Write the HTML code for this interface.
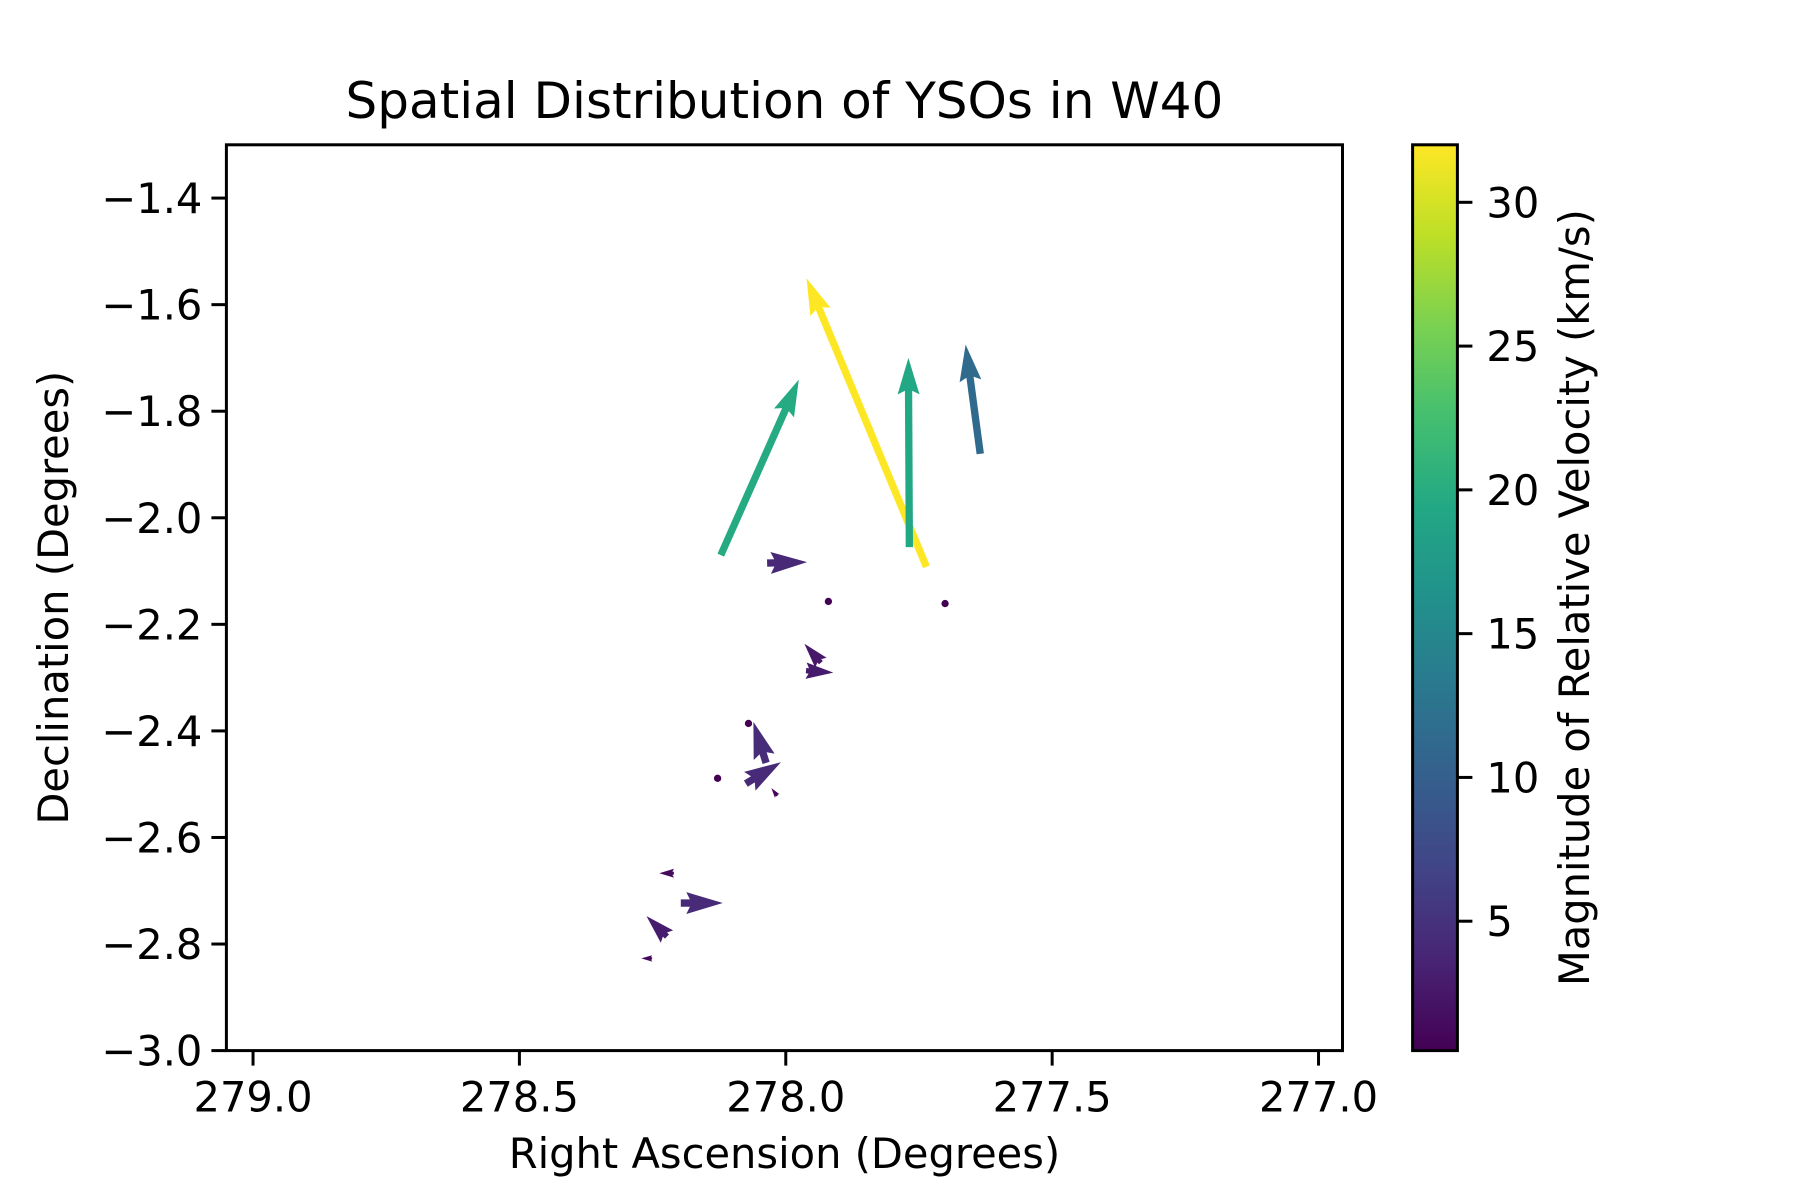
<!DOCTYPE html>
<html><head><meta charset="utf-8"><style>
html,body{margin:0;padding:0;background:#fff;}
svg{display:block;font-family:"DejaVu Sans","Liberation Sans",sans-serif;}
</style></head><body>
<svg id="chart" width="1800" height="1200" viewBox="0 0 1800 1200" xmlns="http://www.w3.org/2000/svg">
<defs>
<linearGradient id="vir" x1="0" y1="1" x2="0" y2="0">
<stop offset="0" stop-color="#440154"/><stop offset="0.1" stop-color="#482475"/><stop offset="0.2" stop-color="#414487"/><stop offset="0.3" stop-color="#355f8d"/><stop offset="0.4" stop-color="#2a788e"/><stop offset="0.5" stop-color="#21918c"/><stop offset="0.6" stop-color="#22a884"/><stop offset="0.7" stop-color="#44bf70"/><stop offset="0.8" stop-color="#7ad151"/><stop offset="0.9" stop-color="#bddf26"/><stop offset="1" stop-color="#fde725"/>
</linearGradient>
</defs>
<g id="plot"></g>
<g id="axes"></g>
</svg>
<script>
// Data (tail positions in degrees, velocity components in km/s)
const ra  = [278.122, 277.736, 277.768, 277.635, 278.035, 277.934, 277.962, 278.037, 278.075, 278.016, 278.070, 278.128, 277.920, 277.701, 278.210, 278.197, 278.223, 278.251];
const dec = [-2.070, -2.092, -2.055, -1.880, -2.085, -2.272, -2.287, -2.460, -2.499, -2.522, -2.386, -2.489, -2.157, -2.161, -2.667, -2.723, -2.786, -2.827];
const vx  = [8.0, -12.3, -0.1, -1.5, 4.1, -1.7, 2.8, -1.3, 3.6, -0.6, 0.3, 0.3, 0.3, 0.3, -1.5, 4.3, -2.1, -1.1];
const vy  = [18.0, 29.6, 19.4, 11.2, 0.1, 1.95, -0.2, 4.2, 2.2, 0.8, 0.2, 0.2, 0.2, 0.2, 0.0, 0.0, 2.1, 0.0];
const xTicks = [279.0, 278.5, 278.0, 277.5, 277.0];
const xTickLabels = ["279.0","278.5","278.0","277.5","277.0"];
const yTicks = [-1.4,-1.6,-1.8,-2.0,-2.2,-2.4,-2.6,-2.8,-3.0];
const yTickLabels = ["\u22121.4","\u22121.6","\u22121.8","\u22122.0","\u22122.2","\u22122.4","\u22122.6","\u22122.8","\u22123.0"];
const cTicks = [5,10,15,20,25,30];
const cTickLabels = ["5","10","15","20","25","30"];

const NS="http://www.w3.org/2000/svg";
const L=226.4,R=1342.5,T=144.8,B=1050.6;
const xMin=279.05,xMax=276.955,yMin=-3.0,yMax=-1.3;
const cMin=0.5,cMax=32;
const CL=1412.6,CR=1457.4;
const FS=41.6, TFS=50;
const sx=v=>L+(v-xMin)/(xMax-xMin)*(R-L);
const sy=v=>B-(v-yMin)/(yMax-yMin)*(B-T);
const sc=v=>B-(v-cMin)/(cMax-cMin)*(B-T);
const PXPER=9.75, W=7.3;
const vir=["#440154","#482475","#414487","#355f8d","#2a788e","#21918c","#22a884","#44bf70","#7ad151","#bddf26","#fde725"];
function hx(c){return [parseInt(c.substr(1,2),16),parseInt(c.substr(3,2),16),parseInt(c.substr(5,2),16)];}
function cmap(m){let t=Math.max(0,Math.min(1,(m-cMin)/(cMax-cMin)))*10;let i=Math.min(9,Math.floor(t));let f=t-i;
 const a=hx(vir[i]),b=hx(vir[i+1]);return "rgb("+a.map((v,k)=>Math.round(v+(b[k]-v)*f)).join(",")+")";}
function mk(tag,attrs,parent){const e=document.createElementNS(NS,tag);for(const k in attrs)e.setAttribute(k,attrs[k]);parent.appendChild(e);return e;}
const plot=document.getElementById('plot'), axes=document.getElementById('axes');

for(let i=0;i<ra.length;i++){
  const x0=sx(ra[i]),y0=sy(dec[i]);
  const dx=vx[i]*PXPER, dy=-vy[i]*PXPER;
  const len=Math.hypot(dx,dy), mag=Math.hypot(vx[i],vy[i]);
  const col=cmap(mag);
  let el;
  if(len<W){
    el=mk('circle',{cx:x0,cy:y0,r:W/2,fill:col},plot);
  } else {
    let pts;
    if(len>=5*W){
      pts=[[0,-W/2],[len-4.5*W,-W/2],[len-5*W,-1.5*W],[len,0],[len-5*W,1.5*W],[len-4.5*W,W/2],[0,W/2]];
    } else {
      const s=len/(5*W);
      pts=[[0,-W/2],[0.5*W,-W/2],[0,-1.5*W],[5*W,0],[0,1.5*W],[0.5*W,W/2],[0,W/2]].map(p=>[p[0]*s,p[1]*s]);
    }
    const c=dx/len,sn=dy/len;
    const P=pts.map(p=>(x0+p[0]*c-p[1]*sn).toFixed(1)+","+(y0+p[0]*sn+p[1]*c).toFixed(1)).join(" ");
    el=mk('polygon',{points:P,fill:col},plot);
  }
  
  
}

let fr=mk('rect',{x:L,y:T,width:R-L,height:B-T,fill:'none',stroke:'#000','stroke-width':3},axes);


xTicks.forEach((v,i)=>{const x=sx(v);
 const t=mk('line',{x1:x,y1:B,x2:x,y2:B+15,stroke:'#000','stroke-width':3},axes);
 
 const tx=mk('text',{x:x,y:B+61,'font-size':FS,'text-anchor':'middle'},axes);tx.textContent=xTickLabels[i];
 });
yTicks.forEach((v,i)=>{const y=sy(v);
 const t=mk('line',{x1:L-15,y1:y,x2:L,y2:y,stroke:'#000','stroke-width':3},axes);
 
 const tx=mk('text',{x:L-24,y:y+15,'font-size':FS,'text-anchor':'end'},axes);tx.textContent=yTickLabels[i];
 });
let cb=mk('rect',{x:CL,y:T,width:CR-CL,height:B-T,fill:'url(#vir)',stroke:'#000','stroke-width':3},axes);

cTicks.forEach((v,i)=>{const y=sc(v);
 const t=mk('line',{x1:CR,y1:y,x2:CR+15,y2:y,stroke:'#000','stroke-width':3},axes);
 
 const tx=mk('text',{x:CR+29,y:y+15,'font-size':FS},axes);tx.textContent=cTickLabels[i];
 });
let tt=mk('text',{x:(L+R)/2,y:118,'font-size':TFS,'text-anchor':'middle'},axes);tt.textContent="Spatial Distribution of YSOs in W40";

let xl=mk('text',{x:(L+R)/2,y:1168,'font-size':FS,'text-anchor':'middle'},axes);xl.textContent="Right Ascension (Degrees)";

let yl=mk('text',{x:0,y:0,'font-size':FS,'text-anchor':'middle',transform:'translate(68,'+((T+B)/2)+') rotate(-90)'},axes);yl.textContent="Declination (Degrees)";

let cl=mk('text',{x:0,y:0,'font-size':FS,'text-anchor':'middle',transform:'translate(1589,'+((T+B)/2)+') rotate(-90)'},axes);cl.textContent="Magnitude of Relative Velocity (km/s)";

</script>
</body></html>
